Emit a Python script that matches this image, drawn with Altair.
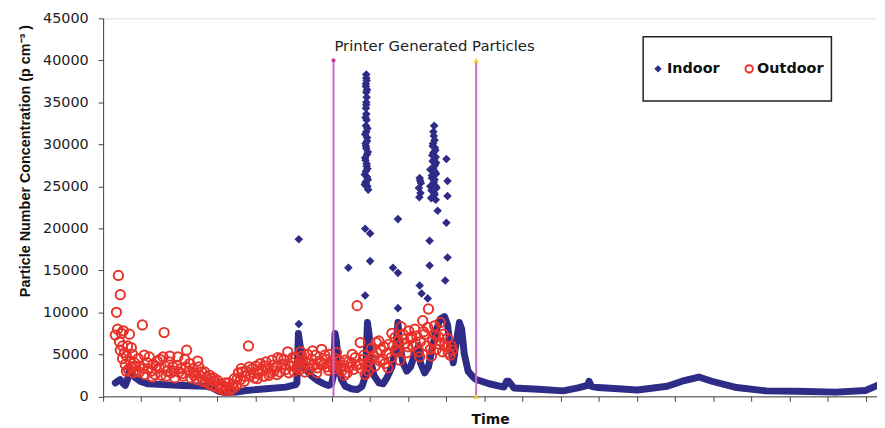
import altair as alt
import pandas as pd

# ---------------- data (time in axis-tick units, concentration in p/cm3) ----------------
series_names = ["Indoor", "Outdoor"]
series_colors = ["#2e2c86", "#e8322a"]

indoor_line_t = [0.32, 0.38, 0.45, 0.53, 0.58, 0.64, 0.69, 0.74, 0.82, 0.97, 1.16, 1.57, 2.09, 2.71, 2.87,
                 3.03, 3.23, 3.49, 3.75, 4.27, 4.79, 5.05, 5.08, 5.12, 5.16, 5.21, 5.31, 5.47, 5.62, 5.78,
                 5.91, 5.99, 6.04, 6.08, 6.12, 6.17, 6.25, 6.35, 6.51, 6.66, 6.79, 6.88, 6.93, 6.97, 7.03,
                 7.10, 7.23, 7.34, 7.44, 7.57, 7.68, 7.73, 7.77, 7.86, 7.96, 8.06, 8.17, 8.27, 8.32, 8.43,
                 8.53, 8.64, 8.74, 8.84, 8.95, 9.03, 9.10, 9.18, 9.26, 9.34, 9.40, 9.47, 9.57, 9.70, 9.78,
                 10.12, 10.51, 10.58, 10.63, 10.77, 11.42, 12.06, 12.45, 12.70, 12.74, 12.80, 12.98, 14.01,
                 14.79, 15.18, 15.62, 15.96, 16.61, 17.39, 18.17, 19.21, 19.99, 20.30, 20.38]
indoor_line_v = [1600, 1800, 2000, 1500, 1300, 2000, 3200, 2900, 2300, 1800, 1500, 1400, 1300, 1200, 1000,
                 600, 450, 500, 700, 900, 1100, 1400, 1600, 7500, 6200, 4500, 3200, 2400, 1900, 1500,
                 1300, 1500, 2500, 7500, 6500, 3500, 2000, 1200, 900, 800, 1200, 2500, 8800, 7500, 4000,
                 2500, 1600, 1500, 2200, 3500, 6000, 8800, 6500, 4000, 3000, 3500, 5000, 6000, 4000, 2800,
                 3500, 6000, 8000, 9200, 9500, 8500, 6000, 4000, 6500, 8800, 8000, 5000, 3000, 2300, 2000,
                 1500, 1100, 1800, 1800, 1000, 850, 650, 1000, 1300, 1800, 1200, 1050, 750,
                 1200, 1800, 2300, 1800, 1050, 650, 600, 500, 700, 1300, 1500]

indoor_pts_t = [5.13, 5.13,
                6.90, 6.91, 6.89, 6.90, 6.91, 6.90, 6.89, 6.90, 6.91, 6.89, 6.90, 6.92, 6.88, 6.90, 6.92,
                6.88, 6.91, 6.89, 6.92, 6.88, 6.93, 6.86, 6.95,
                6.90, 6.89, 6.92, 6.90, 6.88, 6.93, 6.87, 6.92, 6.89, 6.94, 6.87, 6.91, 6.93, 6.86, 6.94,
                6.89,
                6.87, 7.00, 7.00, 6.87, 6.43, 7.73, 7.60, 7.73, 7.73,
                8.68, 8.66, 8.64, 8.70, 8.66, 8.72, 8.64, 8.70, 8.66, 8.73, 8.62, 8.69, 8.66, 8.74, 8.61,
                8.68, 8.65, 8.72, 8.58, 8.58,
                8.67, 8.69, 8.65, 8.71, 8.63, 8.68, 8.73, 8.65, 8.70, 8.62, 8.67, 8.72, 8.64, 8.69, 8.60,
                8.30, 8.33, 8.28, 8.32, 8.29, 8.31,
                9.00, 9.03, 9.03, 8.77, 9.00, 8.56, 9.03, 8.56, 8.97, 8.30, 8.35, 8.51]
indoor_pts_v = [8600, 18700,
                38300, 37600, 36900, 36200, 35600, 35000, 34300, 33600, 32900, 32200, 31500, 30800, 30100,
                29500, 28800, 28100, 27400, 26800, 26100, 25500, 25000, 25200, 24600,
                37900, 37200, 36500, 34700, 33200, 31900, 31200, 30400, 29800, 29100, 28400, 27700, 27100,
                26400, 25800, 25300,
                19950, 19400, 16100, 12000, 15300, 21100, 15300, 14700, 10500,
                32200, 31500, 29800, 29600, 29000, 28500, 28000, 27500, 27000, 26500, 26000, 25800, 25200,
                24800, 24500, 24200, 23700, 23400, 25000, 27000,
                31000, 30500, 30100, 29300, 28700, 28200, 27800, 27200, 26700, 26300, 25500, 25000, 24600,
                24000, 23600,
                26000, 25400, 24800, 24200, 23700, 25700,
                28250, 25640, 23860, 22100, 20660, 18530, 16520, 15570, 13800, 13200, 12250, 11660]

outdoor_t_a = [0.32, 0.35, 0.38, 0.40, 0.43, 0.45, 0.45, 0.48, 0.51, 0.51,
               0.53, 0.56, 0.58, 0.61, 0.64, 0.66, 0.69, 0.71, 0.74, 0.77,
               0.79, 0.82, 0.87, 0.92, 0.97, 1.03, 1.05, 1.10, 1.16, 1.21,
               1.26, 1.31, 1.36, 1.42, 1.47, 1.52, 1.57, 1.60, 1.62, 1.68,
               1.73, 1.78, 1.83, 1.88, 1.94, 1.99, 2.04, 2.09, 2.14, 2.19,
               2.25, 2.30, 2.35, 2.40, 2.45, 2.51, 2.56, 2.61, 2.66, 2.71,
               2.77, 2.82, 2.87, 2.92, 2.97, 3.03, 3.08, 3.13, 3.18, 3.23,
               3.29, 3.34, 3.39, 3.44, 3.49, 3.55, 3.60, 3.65, 3.70, 3.75,
               3.81, 3.86, 3.91, 3.96, 4.01, 4.06, 4.12, 4.17, 4.22, 4.27,
               4.32, 4.38, 4.43, 4.48, 4.53, 4.58, 4.64, 4.69, 4.74, 4.79,
               4.84, 4.90, 4.95, 5.00, 5.05, 5.10, 5.16, 5.21, 5.26, 5.31,
               5.36, 5.42, 5.47, 5.52, 5.57, 5.62, 5.68, 5.73, 5.78, 5.83,
               5.88, 5.94, 5.99, 6.04, 6.09, 6.14, 6.19, 6.25, 6.30, 6.35,
               6.40, 6.45, 6.51, 6.56, 6.61, 6.66, 6.71, 6.77, 6.82, 6.87,
               6.92, 6.97, 7.03, 7.08, 7.13, 7.18, 7.23, 7.29, 7.34, 7.39,
               7.44, 7.49, 7.55, 7.60, 7.65, 7.70, 7.75, 7.81, 7.86, 7.91,
               7.96, 8.01, 8.06, 8.12, 8.17, 8.22, 8.27, 8.32, 8.38, 8.43,
               8.48, 8.53, 8.58, 8.64, 8.69, 8.74, 8.79, 8.84, 8.90, 8.95,
               9.00, 9.05, 9.10, 9.16]
outdoor_v_a = [7300, 10000, 8000, 14400, 6500, 12100, 5500, 7500, 4500, 6000,
               7800, 5200, 3800, 4800, 6000, 3200, 7400, 4200, 3500, 5000,
               2800, 4000, 3000, 4500, 3600, 8500, 3300, 2600, 4000, 4700,
               3000, 3800, 2600, 4200, 3400, 2500, 4700, 7600, 3600, 3000,
               4100, 2800, 3500, 2200, 3700, 2900, 3300, 2400, 4400, 5500,
               3000, 2200, 3300, 2800, 2000, 3500, 2400, 1800, 2900, 2300,
               1500, 2100, 1300, 1800, 1100, 1500, 900, 1300, 700, 1100,
               1600, 900, 1400, 2100, 1300, 2800, 2000, 2900, 1800, 3000,
               6000, 2500, 3300, 2200, 3600, 2700, 3900, 3100, 2400, 4100,
               3300, 2800, 4300, 3000, 3500, 4600, 2900, 3800, 4400, 3200,
               5300, 3600, 4000, 3000, 4500, 3700, 3200, 4800, 3500, 4100,
               5000, 3200, 4400, 3700, 4900, 3400, 4200, 5600, 3800, 4400,
               3500, 5000, 4100, 3300, 4500, 3600, 4200, 3000, 3700, 4300,
               2800, 3500, 4000, 3200, 4600, 10800, 3800, 3300, 4400, 2600,
               3600, 4200, 5700, 4800, 3600, 5200, 6600, 5500, 4400, 3900,
               5100, 6200, 4600, 6000, 7000, 5300, 6600, 8300, 7400, 6300,
               5200, 7800, 6900, 6000, 8000, 7200, 5300, 6500, 9000, 7400,
               6000, 10400, 5600, 6600, 8400, 5600, 7100, 8800, 5300, 6100,
               5900, 5200, 4900, 5500]
outdoor_t_b = [0.61, 0.74, 0.84, 0.95, 1.08, 1.18, 1.29, 1.39, 1.49, 1.65,
               1.75, 1.86, 1.96, 2.06, 2.17, 2.27, 2.38, 2.48, 2.58, 2.69,
               2.79, 2.90, 3.00, 3.10, 3.21, 3.31, 3.42, 3.52, 3.62, 3.73,
               3.83, 3.94, 4.04, 4.14, 4.25, 4.35, 4.45, 4.56, 4.66, 4.77,
               4.87, 4.97, 5.08, 5.18, 5.29, 5.39, 5.49, 5.60, 5.70, 5.81,
               5.91, 6.01, 6.12, 6.22, 6.33, 6.43, 6.53, 6.64, 6.74, 6.84,
               6.95, 7.05, 7.16, 7.26, 7.36, 7.47, 7.57, 7.68, 7.78, 7.88,
               7.99, 8.09, 8.19, 8.30, 8.40, 8.51, 8.61, 8.71, 8.82, 8.92,
               9.03, 9.13]
outdoor_v_b = [3000, 5800, 3600, 2900, 4900, 3300, 2300, 3600, 4400, 2400,
               4800, 3000, 4700, 2700, 3500, 3900, 2500, 4200, 2900, 1700,
               2500, 2200, 1900, 1200, 1600, 700, 1000, 2100, 3300, 2400,
               3500, 2800, 2100, 3300, 3600, 2500, 3700, 2600, 4500, 3800,
               2800, 4600, 3400, 5300, 2900, 3900, 5400, 2800, 3900, 4900,
               3100, 3900, 5200, 3400, 2500, 4100, 5000, 3700, 6400, 4900,
               3000, 4500, 6400, 4200, 5900, 3400, 7500, 5600, 4300, 6800,
               5900, 7100, 6300, 4700, 7700, 8200, 4800, 7300, 6200, 7400,
               6900, 6000]

print_marks_t = [6.04, 9.78]
print_top = 40000
annotation_text = "Printer Generated Particles"
annotation_t = 8.69
annotation_v = 41700
y_ticks = list(range(0, 45001, 5000))
x_ticks = list(range(0, 21))
x_max = 20.29
y_title = "Particle Number Concentration (p cm\u207b\u00b3 )"
x_title = "Time"

NAVY, RED = series_colors
PINK = "#c86cc8"
YSCALE = alt.Scale(domain=[0, 45000], nice=False)

# ---------------- frames ----------------
df_line = pd.DataFrame({"t": indoor_line_t, "v": indoor_line_v})
df_line["idx"] = range(len(df_line))
df_ind = pd.DataFrame({"t": indoor_pts_t, "v": indoor_pts_v})
df_out = pd.DataFrame({"t": outdoor_t_a + outdoor_t_b, "v": outdoor_v_a + outdoor_v_b})
df_rules = pd.DataFrame({"t": print_marks_t, "v": [0, 0], "v2": [print_top, print_top]})
df_ann = pd.DataFrame({"t": [annotation_t], "v": [annotation_v], "label": [annotation_text]})

X = alt.X("t:Q",
          scale=alt.Scale(domain=[0, x_max], nice=False, zero=False),
          axis=alt.Axis(values=x_ticks, labels=False, title=x_title, grid=False,
                        titleFont="DejaVu Sans", titleFontSize=14, titleFontWeight="bold",
                        titleColor="#111", titleY=23, titleBaseline="middle",
                        tickSize=5, tickColor="#444", domainColor="#444"))
Y = alt.Y("v:Q", scale=YSCALE,
          axis=alt.Axis(values=y_ticks, format="d", title=y_title, grid=False,
                        titleFont="Liberation Sans", titleFontSize=14.5, titleFontWeight="bold",
                        titleColor="#111", titleX=-78, titleY=143.5, titleAngle=270,
                        titleAlign="center", titleBaseline="middle",
                        labelFont="DejaVu Sans", labelFontSize=14.5, labelColor="#222",
                        labelPadding=10, tickSize=5, tickColor="#444", domainColor="#444"))

line = alt.Chart(df_line).mark_line(color=NAVY, strokeWidth=7, strokeCap="round",
                                    strokeJoin="round").encode(x=X, y=Y, order="idx:Q")
ind_pts = alt.Chart(df_ind).mark_point(shape="diamond", filled=True, size=75, color=NAVY,
                                       opacity=1).encode(x=X, y=Y)
out_pts = alt.Chart(df_out).mark_point(shape="circle", filled=False, size=88, strokeWidth=2,
                                       color=RED, opacity=1).encode(x=X, y=Y)
rules = alt.Chart(df_rules).mark_rule(color=PINK, strokeWidth=2).encode(x=X, y=Y, y2="v2:Q")
top_left = alt.Chart(df_rules.iloc[[0]]).mark_point(shape="circle", filled=True, size=18,
                                                     color="#c0409a", opacity=1).encode(
    x=X, y=alt.Y("v2:Q", scale=YSCALE))
yellow = alt.Chart(df_rules.iloc[[1]]).mark_point(shape="triangle-up", filled=True, size=30,
                                                   color="#f2d21a", opacity=1).encode(
    x=X, y=alt.Y("v2:Q", scale=YSCALE))
yellow_b = alt.Chart(df_rules.iloc[[1]]).mark_point(shape="triangle-up", filled=True, size=30,
                                                     color="#f2d21a", opacity=1).encode(x=X, y=Y)
ann = alt.Chart(df_ann).mark_text(font="DejaVu Sans", fontSize=15, color="#222",
                                  align="center", baseline="middle").encode(x=X, y=Y, text="label:N")

# legend (drawn by hand to reproduce the boxed Excel legend)
one = pd.DataFrame({"a": [0]})
leg_box = alt.Chart(one).mark_rect(fill="white", stroke="#222", strokeWidth=1.5).encode(
    x=alt.value(545), x2=alt.value(735), y=alt.value(18.5), y2=alt.value(83.5))
leg_d = alt.Chart(one).mark_point(shape="diamond", filled=True, size=55, color=NAVY, opacity=1).encode(
    x=alt.value(560), y=alt.value(51))
leg_c = alt.Chart(one).mark_point(shape="circle", filled=False, size=55, strokeWidth=1.9, color=RED,
                                  opacity=1).encode(x=alt.value(652), y=alt.value(51))
leg_t1 = alt.Chart(pd.DataFrame({"label": [series_names[0]]})).mark_text(
    font="DejaVu Sans", fontSize=14.5, fontWeight="bold", color="#111", align="left",
    baseline="middle").encode(x=alt.value(569), y=alt.value(51), text="label:N")
leg_t2 = alt.Chart(pd.DataFrame({"label": [series_names[1]]})).mark_text(
    font="DejaVu Sans", fontSize=14.5, fontWeight="bold", color="#111", align="left",
    baseline="middle").encode(x=alt.value(660), y=alt.value(51), text="label:N")

chart = alt.layer(line, ind_pts, out_pts, rules, top_left, yellow, yellow_b, ann,
                  leg_box, leg_d, leg_c, leg_t1, leg_t2).properties(
    width=781, height=381.5,
    autosize=alt.AutoSizeParams(type="none"),
    padding={"left": 96, "top": 8.5, "right": 0, "bottom": 30},
).configure_view(stroke=None).configure(background="white")

chart.save("out.html", embed_options={"renderer": "svg", "actions": False})
